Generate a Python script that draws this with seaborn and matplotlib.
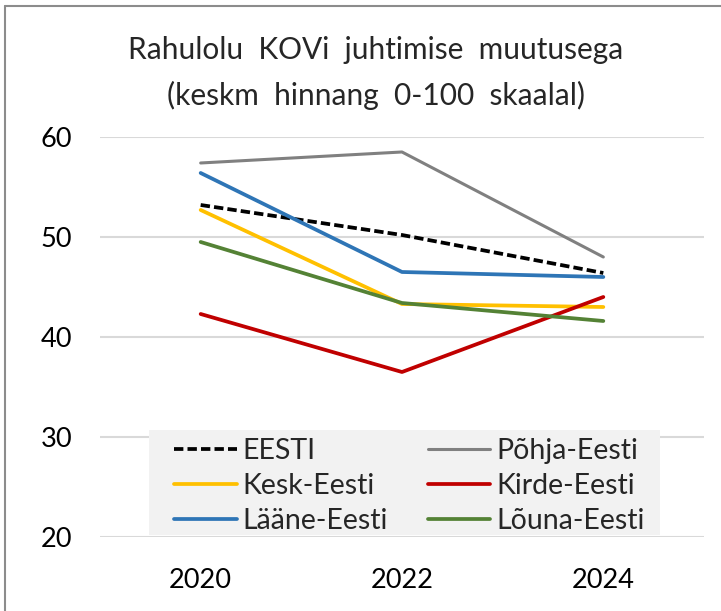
import pandas as pd
import matplotlib.pyplot as plt
import seaborn as sns
from matplotlib.lines import Line2D
from matplotlib.patches import Rectangle

# Chart data
years = ["2020", "2022", "2024"]
eesti = [53.2, 50.2, 46.4]
pohja = [57.4, 58.5, 48.0]
kesk = [52.7, 43.3, 43.0]
kirde = [42.3, 36.5, 44.0]
laane = [56.4, 46.5, 46.0]
louna = [49.5, 43.4, 41.6]

regions = ["EESTI", "Põhja-Eesti", "Kesk-Eesti", "Kirde-Eesti", "Lääne-Eesti", "Lõuna-Eesti"]
series = [eesti, pohja, kesk, kirde, laane, louna]
colors = ["#000000", "#808080", "#ffc000", "#c00000", "#2e75b6", "#548235"]

rows = []
for name, vals in zip(regions, series):
    for yr, v in zip(years, vals):
        rows.append({"aasta": yr, "hinnang": v, "piirkond": name})
df = pd.DataFrame(rows)

sns.set_style("white")
plt.rcParams["font.family"] = ["Lato", "DejaVu Sans"]

fig = plt.figure(figsize=(7.21, 6.11), dpi=100)
ax = fig.add_axes([0.1387, 0.1211, 0.8377, 0.6547])

palette = dict(zip(regions, colors))
dash = (2.5, 1.1)
dashes = {r: dash if r == "EESTI" else "" for r in regions}
widths = {r: 2.2 if r == "Põhja-Eesti" else 2.7 for r in regions}
sns.lineplot(data=df, x="aasta", y="hinnang", hue="piirkond", style="piirkond",
             palette=palette, dashes=dashes, linewidth=2.7, sort=False, ax=ax,
             legend=False)
for line, r in zip(ax.get_lines(), regions):
    line.set_linewidth(widths[r])

ax.set_ylim(20, 60)
ax.set_xlim(-0.5, 2.5)
ax.set_yticks([20, 30, 40, 50, 60])
ax.grid(axis="y", color="#d9d9d9", linewidth=1.5)
ax.set_axisbelow(True)
for s in ax.spines.values():
    s.set_visible(False)
ax.tick_params(axis="both", length=0, labelsize=19.5, colors="#000000")
ax.tick_params(axis="x", pad=22)
ax.tick_params(axis="y", pad=20)
ax.set_xlabel("")
ax.set_ylabel("")

# legend background box (grey panel over the lower gridlines)
ax.add_patch(Rectangle((0.0811, 0.005), 0.846, 0.2625, transform=ax.transAxes,
                       facecolor="#f2f2f2", edgecolor="none", zorder=1))

# Legend ordered row-wise like the original (2 columns)
handles = []
for r, c in zip(regions, colors):
    ls = (0, dash) if r == "EESTI" else "-"
    handles.append(Line2D([0], [0], color=c, lw=widths[r], linestyle=ls))
order = [0, 2, 4, 1, 3, 5]
leg = ax.legend([handles[i] for i in order], [regions[i] for i in order],
                ncol=2, loc="upper left", bbox_to_anchor=(0.1225, 0.2485),
                fontsize=20.5, frameon=False,
                handlelength=2.2, handletextpad=0.2, labelspacing=0.33,
                borderpad=0, columnspacing=1.4, borderaxespad=0)
leg.set_zorder(3)

fig.text(0.521, 0.9034, "Rahulolu  KOVi  juhtimise  muutusega", ha="center", va="baseline", fontsize=21.5)
fig.text(0.521, 0.828, "(keskm  hinnang  0-100  skaalal)", ha="center", va="baseline", fontsize=21.5)

# outer chart border (left and top edges visible in the crop)
fig.add_artist(Line2D([0.007, 0.007], [0, 0.99], transform=fig.transFigure, color="#8c8c8c", lw=1.5))
fig.add_artist(Line2D([0.007, 1], [0.99, 0.99], transform=fig.transFigure, color="#8c8c8c", lw=1.5))

plt.savefig("out.png", dpi=100)
plt.close()
